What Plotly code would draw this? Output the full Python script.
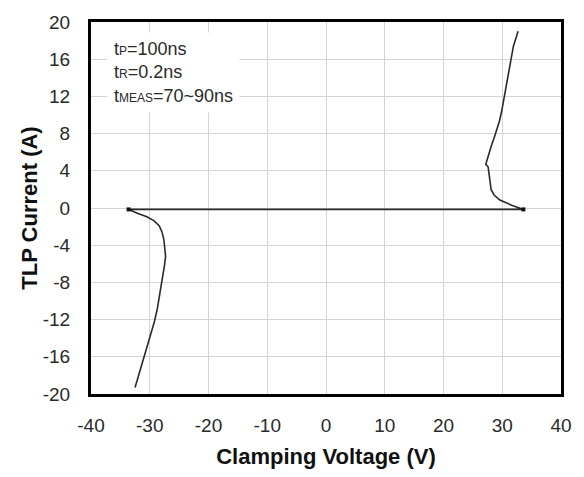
import plotly.graph_objects as go

# Negative branch (bottom to top), then positive branch (bottom to top); joined by the horizontal segment
neg_v = [-32.5, -31.9, -31.4, -30.8, -30.3, -29.7, -29.2, -28.7, -28.3, -28.0, -27.8, -27.5, -27.3, -27.4, -27.6, -27.9, -28.4, -29.3, -30.5, -32.0, -33.6]
neg_i = [-19.3, -18.0, -16.8, -15.5, -14.3, -13.2, -12.2, -10.8, -9.4, -8.3, -7.3, -6.2, -5.2, -4.3, -3.4, -2.6, -1.9, -1.35, -0.95, -0.6, -0.15]

pos_v = [33.6, 31.6, 29.6, 28.6, 28.1, 27.9, 27.8, 27.6, 27.2, 27.5, 27.9, 28.2, 28.6, 29.0, 29.5, 29.9, 30.3, 30.7, 31.0, 31.3, 31.6, 31.9, 32.3, 32.7]
pos_i = [-0.15, 0.3, 0.85, 1.4, 2.0, 2.8, 3.6, 4.4, 4.7, 5.4, 6.1, 6.8, 7.5, 8.3, 9.3, 10.4, 11.8, 13.2, 14.1, 15.0, 16.2, 17.4, 18.2, 19.0]

corner_v = [-33.6, 33.6]
corner_i = [-0.15, -0.15]

x_ticks = [-40, -30, -20, -10, 0, 10, 20, 30, 40]
x_labels = ["-40", "-30", "-20", "-10", "0", "10", "20", "30", "40"]
y_ticks = [-20, -16, -12, -8, -4, 0, 4, 8, 12, 16, 20]
y_labels = ["-20", "-16", "-12", "-8", "-4", "0", "4", "8", "12", "16", "20"]

curve_v = neg_v + pos_v
curve_i = neg_i + pos_i

fig = go.Figure()
fig.add_trace(go.Scatter(x=curve_v, y=curve_i, mode="lines",
                         line=dict(color="#2a2a2a", width=1.6), showlegend=False))
fig.add_trace(go.Scatter(x=corner_v, y=corner_i, mode="markers",
                         marker=dict(symbol="square", size=4, color="#111111"), showlegend=False))

font_family = "Liberation Sans, Arial, sans-serif"
fig.add_annotation(
    xref="paper", yref="paper", x=0.034, y=0.974, xanchor="left", yanchor="top",
    align="left", showarrow=False, bgcolor="white", borderpad=6,
    text=("t<span style='font-size:12px'>P</span>=100ns<br>"
          "t<span style='font-size:12px'>R</span>=0.2ns<br>"
          "t<span style='font-size:12px'>MEAS</span>=70~90ns"),
    font=dict(family=font_family, size=18, color="#2a2a2a"),
)

fig.update_layout(
    width=584, height=477,
    margin=dict(l=91, r=21, t=19, b=80),
    paper_bgcolor="white", plot_bgcolor="white",
    font=dict(family=font_family, color="#111111"),
    xaxis=dict(range=[-40, 40], tickvals=x_ticks, ticktext=x_labels, ticks="", showgrid=True,
               gridcolor="#d4d4d4", gridwidth=1, zeroline=False,
               showline=True, linecolor="black", linewidth=3, mirror=True,
               ticklabelstandoff=12,
               tickfont=dict(size=19, color="#2a2a2a"),
               title=dict(text="<b>Clamping Voltage (V)</b>", font=dict(size=22, color="#111111"), standoff=14)),
    yaxis=dict(range=[-20, 20], tickvals=y_ticks, ticktext=y_labels, ticks="", showgrid=True,
               gridcolor="#d4d4d4", gridwidth=1, zeroline=False,
               showline=True, linecolor="black", linewidth=3, mirror=True,
               ticklabelstandoff=14,
               tickfont=dict(size=19, color="#2a2a2a"),
               title=dict(text="<b>TLP Current (A)</b>", font=dict(size=22, color="#111111"), standoff=0)),
)

fig.write_html("out.html", config={"displayModeBar": False},
               post_script="document.body.style.margin='0';")
